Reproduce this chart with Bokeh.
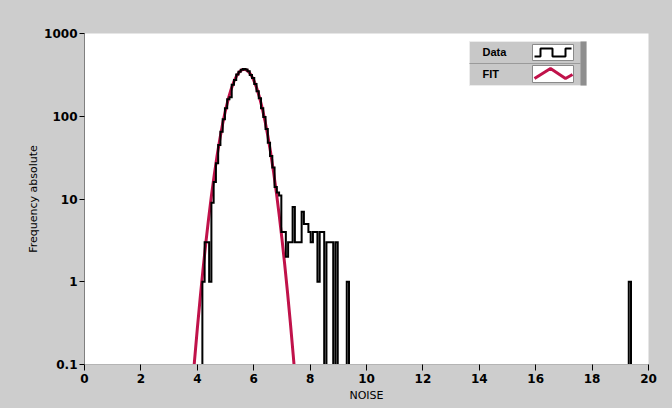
import numpy as np
from bokeh.plotting import figure
from bokeh.models import (Range1d, FixedTicker, CustomJSTickFormatter, BoxAnnotation,
                          Label, PolyAnnotation, GlobalInlineStyleSheet)
from bokeh.embed import file_html
from bokeh.resources import INLINE

# ---------------- data ----------------
bin_start = 4.18
bin_width = 0.08
counts = [1, 3, 3, 1, 9, 16, 27, 45, 65, 92, 125, 160, 170, 240, 275, 320, 345, 365,
          372, 368, 350, 315, 290, 245, 200, 165, 125, 98, 70, 48, 33, 24, 14, 12, 11,
          4, 4, 2, 3, 3, 8, 3, 3, 3, 7, 5, 5, 4, 3, 4, 4, 1, 4, 4, 0, 3, 3, 3, 0, 3,
          0, 0, 0, 0, 1]
outlier_edges = [19.30]
outlier_counts = [1]

fit_x = [3.8, 3.9, 4.0, 4.1, 4.2, 4.3, 4.4, 4.5, 4.6, 4.7, 4.8, 4.9, 5.0, 5.1, 5.2,
         5.3, 5.4, 5.5, 5.6, 5.7, 5.8, 5.9, 6.0, 6.1, 6.2, 6.3, 6.4, 6.5, 6.6, 6.7,
         6.8, 6.9, 7.0, 7.1, 7.2, 7.3, 7.4, 7.5]
fit_y = [0.0425, 0.110, 0.269, 0.626, 1.383, 2.90, 5.76, 10.86, 19.44, 33.0, 53.2,
         81.4, 118.1, 162.6, 212.5, 263.4, 309.9, 346.0, 366.5, 368.5, 351.5, 318.1,
         273.2, 222.7, 172.2, 126.4, 88.0, 58.2, 36.5, 21.7, 12.26, 6.57, 3.34, 1.61,
         0.737, 0.320, 0.132, 0.0517]

x_ticks = [0, 2, 4, 6, 8, 10, 12, 14, 16, 18, 20]
y_ticks = [0.1, 1, 10, 100, 1000]
y_tick_labels = ["0.1", "1", "10", "100", "1000"]
series_names = ["Data", "FIT"]
x_label = "NOISE"
y_label = "Frequency absolute"

# ---------------- styles ----------------
GREY = "#cdcdcd"
FIT_COLOR = "#c0124a"
W, H = 672, 408

# build histogram outline from counts
n_total = int(round((outlier_edges[-1] - bin_start) / bin_width)) + 2
full = np.zeros(n_total)
full[:len(counts)] = counts
for e, c in zip(outlier_edges, outlier_counts):
    full[int(round((e - bin_start) / bin_width))] = c
edges = bin_start + bin_width * np.arange(n_total + 1)
floor = 1e-3
vals = np.where(full > 0, full, floor)
hx = [edges[0]]
hy = [floor]
for i in range(n_total):
    hx += [edges[i], edges[i + 1]]
    hy += [vals[i], vals[i]]
hx.append(edges[-1])
hy.append(floor)

css = "html,body{margin:0;padding:0;background:%s;overflow:hidden;}" % GREY
p = figure(width=W, height=H, output_backend="svg", toolbar_location=None,
           x_range=Range1d(0, 20), y_range=Range1d(0.1, 1000), y_axis_type="log",
           min_border_left=84, min_border_right=24, min_border_top=33,
           min_border_bottom=44, background_fill_color="white",
           border_fill_color=GREY, outline_line_color=None,
           stylesheets=[GlobalInlineStyleSheet(css=css)])
p.grid.visible = False

p.line(fit_x, fit_y, line_color=FIT_COLOR, line_width=3)
p.line(hx, hy, line_color="black", line_width=2, line_join="miter")

# axes
for ax in (p.xaxis[0], p.yaxis[0]):
    ax.major_label_text_font = "DejaVu Sans"
    ax.major_label_text_font_style = "bold"
    ax.major_label_text_font_size = "12px"
    ax.major_label_text_color = "black"
    ax.axis_label_text_font = "DejaVu Sans"
    ax.axis_label_text_font_style = "normal"
    ax.axis_label_text_font_size = "11px"
    ax.axis_label_text_color = "black"
    ax.minor_tick_line_color = None
    ax.major_tick_in = 0
    ax.major_tick_line_color = "black"
    ax.axis_line_color = "#808080"

p.xaxis.ticker = FixedTicker(ticks=x_ticks)
p.xaxis.axis_label = x_label
p.xaxis.major_tick_out = 6
p.xaxis.major_label_standoff = 3
p.xaxis.axis_label_standoff = 3
p.xaxis.axis_line_color = "#b4b4b4"

p.yaxis.ticker = FixedTicker(ticks=y_ticks)
p.yaxis.formatter = CustomJSTickFormatter(
    args=dict(tvals=y_ticks, tlabels=y_tick_labels),
    code="""
    for (let i = 0; i < tvals.length; i++) {
        if (Math.abs(Math.log10(tvals[i]) - Math.log10(tick)) < 1e-6) return tlabels[i];
    }
    return '';
    """)
p.yaxis.axis_label = y_label
p.yaxis.major_tick_out = 5
p.yaxis.major_label_standoff = 2
p.yaxis.axis_label_standoff = 1

# legend (LabVIEW style: name left, sample right)
def cbox(l, r, t, b, fill, line=None, lw=1, fa=1.0):
    return BoxAnnotation(left=l, right=r, top=t, bottom=b,
                         left_units="canvas", right_units="canvas",
                         top_units="canvas", bottom_units="canvas",
                         fill_color=fill, fill_alpha=fa, line_color=line,
                         line_alpha=1.0, line_width=lw, level="overlay")

p.add_layout(cbox(469, 586, 41, 85, "#c8c8c8", "#ececec"))
p.add_layout(cbox(580, 586, 41, 85, "#8e8e8e", None))
p.add_layout(cbox(469, 580, 62.5, 63.5, "#9a9a9a", None))
p.add_layout(cbox(532, 573, 44, 60, "white", "#8a8a8a"))
p.add_layout(cbox(532, 573, 65, 82, "white", "#8a8a8a"))
# outer window bevel
p.add_layout(cbox(0.5, W - 1.5, 0.5, H - 1.5, GREY, "#8a8a8a", 2, 0.0))

for name, cy in zip(series_names, [51.5, 73]):
    p.add_layout(Label(x=482, y=cy, x_units="canvas", y_units="canvas", text=name,
                       text_font="Liberation Sans", text_font_style="bold",
                       text_font_size="11px", text_baseline="middle",
                       text_color="black", level="overlay"))

sx = [534, 540, 540, 552, 552, 565, 565, 571]
sy = [56, 56, 48, 48, 56, 56, 48, 48]
p.add_layout(PolyAnnotation(xs=sx + sx[::-1], ys=sy + sy[::-1], xs_units="canvas",
                            ys_units="canvas", fill_alpha=0, line_color="black",
                            line_alpha=1.0, line_width=2, level="overlay"))
zx = [534, 550, 565, 572]
zy = [78, 68, 78, 74]
p.add_layout(PolyAnnotation(xs=zx + zx[::-1], ys=zy + zy[::-1], xs_units="canvas",
                            ys_units="canvas", fill_alpha=0, line_color=FIT_COLOR,
                            line_alpha=1.0, line_width=3, level="overlay"))

open("out.html", "w").write(file_html(p, INLINE))
